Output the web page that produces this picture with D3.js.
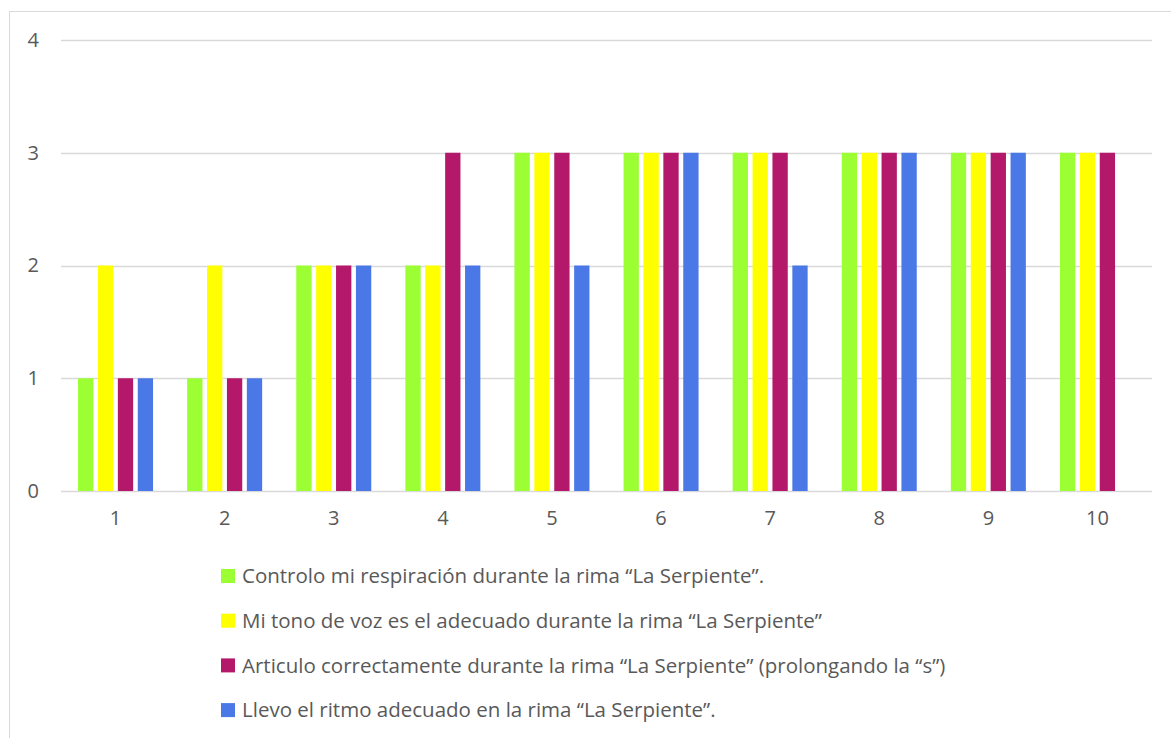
<!DOCTYPE html>
<html>
<head>
<meta charset="utf-8">
<script src="https://cdn.jsdelivr.net/npm/d3@7"></script>
<style>
  html, body { margin: 0; padding: 0; background: #fff; }
  svg { display: block; }
  text { font-family: "Open Sans", Lato, sans-serif; fill: #595959; }
</style>
</head>
<body>
<svg id="chart" width="1171" height="738"></svg>
<script>
// Sessions (x-axis categories)
const categories = ["1", "2", "3", "4", "5", "6", "7", "8", "9", "10"];

// Self-assessment items (legend labels)
const seriesNames = [
  "Controlo mi respiración durante la rima “La Serpiente”.",
  "Mi tono de voz es el adecuado durante la rima “La Serpiente”",
  "Articulo correctamente durante la rima “La Serpiente” (prolongando la “s”)",
  "Llevo el ritmo adecuado en la rima “La Serpiente”."
];

// Scores per session for each item
const respiracion = [1, 1, 2, 2, 3, 3, 3, 3, 3, 3];
const tono        = [2, 2, 2, 2, 3, 3, 3, 3, 3, 3];
const articulo    = [1, 1, 2, 3, 3, 3, 3, 3, 3, 3];
const ritmo       = [1, 1, 2, 2, 2, 3, 2, 3, 3, 0];

const yTicks = [0, 1, 2, 3, 4];
const colors = ["#9BFF33", "#FFFF00", "#B4186A", "#4A78E6"];

const seriesValues = [respiracion, tono, articulo, ritmo];

const svg = d3.select("#chart");

// Chart area frame
svg.append("rect")
  .attr("x", 9.5).attr("y", 11.5)
  .attr("width", 1180).attr("height", 760)
  .attr("fill", "none").attr("stroke", "#d9d9d9").attr("stroke-width", 1);

const plot = { left: 61, right: 1152, top: 40, bottom: 491 };

const x0 = d3.scaleBand()
  .domain(categories)
  .range([plot.left, plot.right])
  .paddingInner(0).paddingOuter(0);

// Group of four bars, each gap = 30% of a bar width
const groupWidth = 75;
const x1 = d3.scaleBand()
  .domain(d3.range(seriesNames.length))
  .range([-groupWidth / 2, groupWidth / 2])
  .paddingInner(0.3 / 1.3).paddingOuter(0);

const y = d3.scaleLinear().domain([0, 4]).range([plot.bottom, plot.top]);

// Horizontal gridlines
svg.append("g")
  .selectAll("line")
  .data(yTicks)
  .join("line")
  .attr("x1", plot.left).attr("x2", plot.right)
  .attr("y1", d => Math.round(y(d)) + 0.5).attr("y2", d => Math.round(y(d)) + 0.5)
  .attr("stroke", "#d9d9d9").attr("stroke-width", 1.3);

// Y-axis labels
const yAxis = d3.axisLeft(y).tickValues(yTicks).tickSize(0).tickPadding(0).tickFormat(d3.format("d"));
svg.append("g")
  .attr("transform", `translate(39,0)`)
  .call(yAxis)
  .call(g => g.select(".domain").remove())
  .selectAll("text")
  .style("font-size", "20px")
  .attr("fill", "#595959")
  .attr("font-family", "'Open Sans', Lato, sans-serif");

// Bars
const rows = [];
categories.forEach((c, i) => {
  seriesValues.forEach((vals, s) => {
    rows.push({ cat: c, s, v: vals[i] });
  });
});

svg.append("g")
  .selectAll("rect")
  .data(rows.filter(d => d.v > 0))
  .join("rect")
  .attr("x", d => x0(d.cat) + x0.bandwidth() / 2 + x1(d.s))
  .attr("width", x1.bandwidth())
  .attr("y", d => y(d.v))
  .attr("height", d => y(0) - y(d.v))
  .attr("fill", d => colors[d.s]);

// X-axis labels
const xAxis = d3.axisBottom(x0).tickSize(0).tickPadding(0);
svg.append("g")
  .attr("transform", `translate(0,${plot.bottom + 20})`)
  .call(xAxis)
  .call(g => g.select(".domain").remove())
  .selectAll("text")
  .style("font-size", "20px")
  .attr("fill", "#595959")
  .attr("font-family", "'Open Sans', Lato, sans-serif");

// Legend
const legend = svg.append("g").attr("transform", "translate(221,576)");
const item = legend.selectAll("g")
  .data(seriesNames)
  .join("g")
  .attr("transform", (d, i) => `translate(0,${i * 44.7})`);
item.append("rect")
  .attr("x", 0).attr("y", -7).attr("width", 14).attr("height", 14)
  .attr("fill", (d, i) => colors[i]);
item.append("text")
  .attr("x", 21).attr("y", 0).attr("dy", "0.35em")
  .style("font-size", "20.5px")
  .text(d => d);
</script>
</body>
</html>
